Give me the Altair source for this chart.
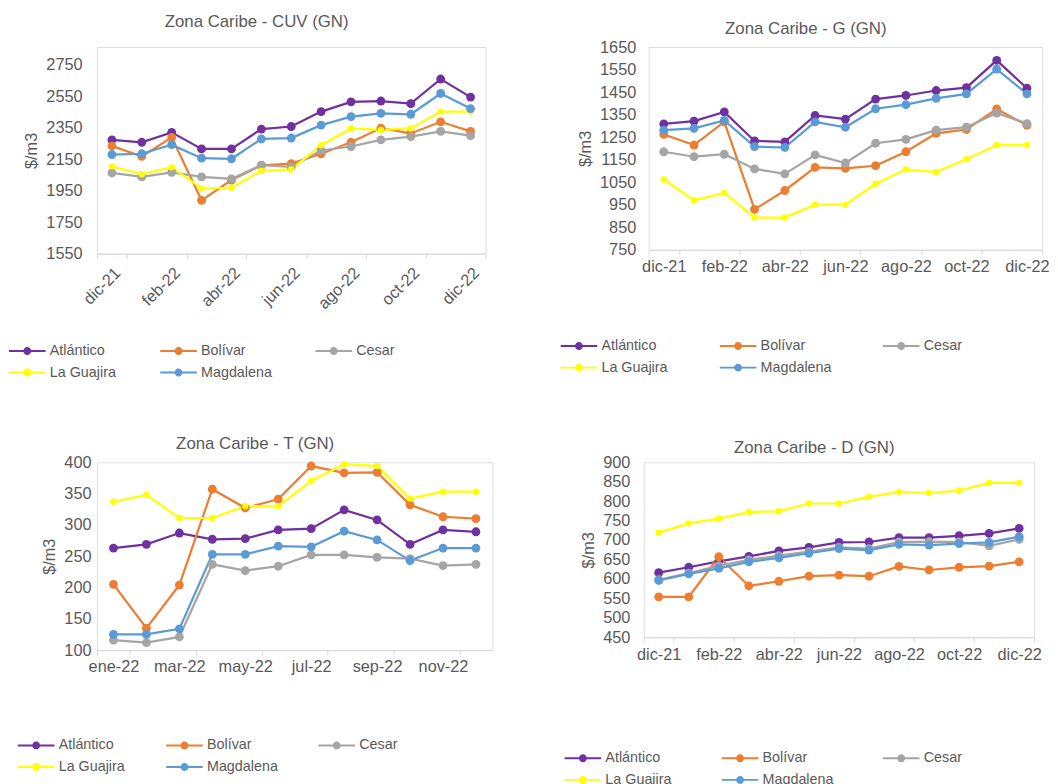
import altair as alt
import pandas as pd

# ---------------- data ----------------
months13 = ["dic-21", "ene-22", "feb-22", "mar-22", "abr-22", "may-22", "jun-22",
            "jul-22", "ago-22", "sep-22", "oct-22", "nov-22", "dic-22"]
months12 = months13[1:]
deptos = ["Atlántico", "Bolívar", "Cesar", "La Guajira", "Magdalena"]
colores = ["#7030A0", "#ED7D31", "#A5A5A5", "#FFFF00", "#5B9BD5"]

# Zona Caribe - CUV (GN)
cuv_atlantico = [2273, 2258, 2321, 2216, 2216, 2342, 2358, 2453, 2515, 2520, 2503, 2660, 2545]
cuv_bolivar = [2235, 2168, 2289, 1889, 2018, 2111, 2122, 2185, 2258, 2348, 2314, 2388, 2327]
cuv_cesar = [2063, 2038, 2067, 2038, 2025, 2113, 2101, 2206, 2231, 2273, 2294, 2327, 2300]
cuv_guajira = [2105, 2055, 2099, 1965, 1969, 2076, 2086, 2239, 2346, 2337, 2346, 2453, 2453]
cuv_magdalena = [2180, 2185, 2243, 2157, 2153, 2279, 2285, 2367, 2421, 2442, 2436, 2568, 2472]

# Zona Caribe - G (GN)
g_atlantico = [1309, 1321, 1362, 1233, 1229, 1346, 1330, 1419, 1435, 1457, 1470, 1591, 1467]
g_bolivar = [1262, 1215, 1318, 929, 1013, 1116, 1111, 1123, 1185, 1267, 1284, 1375, 1303]
g_cesar = [1185, 1163, 1174, 1109, 1087, 1171, 1135, 1223, 1240, 1281, 1294, 1357, 1310]
g_guajira = [1062, 970, 1002, 893, 893, 950, 950, 1043, 1107, 1095, 1152, 1215, 1215]
g_magdalena = [1281, 1289, 1324, 1208, 1204, 1318, 1294, 1376, 1394, 1422, 1442, 1552, 1442]

# Zona Caribe - T (GN)
t_atlantico = [263, 269, 287, 277, 278, 292, 294, 324, 308, 269, 292, 289]
t_bolivar = [205, 135, 204, 357, 327, 341, 394, 383, 384, 332, 313, 310]
t_cesar = [116, 112, 121, 237, 227, 234, 252, 252, 248, 246, 235, 237]
t_guajira = [337, 348, 311, 311, 330, 330, 370, 397, 394, 342, 353, 353]
t_magdalena = [125, 125, 134, 253, 253, 266, 265, 290, 276, 243, 263, 263]

# Zona Caribe - D (GN)
d_atlantico = [616, 630, 645, 658, 672, 681, 694, 695, 706, 706, 711, 717, 730]
d_bolivar = [554, 554, 657, 582, 594, 607, 610, 607, 632, 623, 630, 633, 644]
d_cesar = [598, 615, 634, 649, 660, 670, 681, 678, 695, 696, 695, 685, 702]
d_guajira = [719, 743, 755, 772, 774, 794, 794, 811, 824, 821, 827, 847, 847]
d_magdalena = [596, 613, 627, 644, 654, 666, 678, 674, 689, 687, 691, 694, 709]

TXT = "#595959"
AXC = "#D9D9D9"
FONT = "Liberation Sans"
LEG_PATH = ("M-3.7,-0.2L3.7,-0.2L3.7,0.2L-3.7,0.2Z "
            "M0.8,0A0.8 0.8 0 1 1 -0.8,0A0.8 0.8 0 1 1 0.8,0Z")


def tabla(months, series):
    rows = []
    for dep, vals in zip(deptos, series):
        for m, v in zip(months, vals):
            rows.append({"mes": m, "depto": dep, "valor": v})
    return pd.DataFrame(rows)


def panel(months, series, titulo, ydom, ytop, ystep, w, h, angle, lpad, tdx, toff,
          legx, legy, colpad):
    df = tabla(months, series)
    yvals = list(range(ydom[0], ydom[1] + 1, ystep))
    xaxis = dict(title=None, values=months[::2], tickBand="extent",
                 domainColor=AXC, tickColor=AXC, tickSize=5, domainWidth=1,
                 labelColor=TXT, labelFontSize=16.5, labelFont=FONT,
                 labelPadding=4, grid=False)
    if angle:
        xaxis.update(labelAngle=315, labelAlign="right", labelBaseline="top",
                     labelPadding=6)
    else:
        xaxis.update(labelAngle=0)
    x = alt.X("mes:N", sort=months,
              scale=alt.Scale(type="band", paddingInner=0, paddingOuter=0),
              bandPosition=0.5, axis=alt.Axis(**xaxis))
    y = alt.Y("valor:Q", scale=alt.Scale(domain=[ydom[0], ytop], nice=False, zero=False),
              axis=alt.Axis(title="$/m3", values=yvals, format="d", grid=False,
                            domain=False, ticks=False, labelColor=TXT,
                            labelFontSize=16.5, labelFont=FONT, labelPadding=lpad,
                            titleColor=TXT, titleFontSize=16.5, titleFont=FONT,
                            titleFontWeight="normal", titlePadding=6))
    color = alt.Color("depto:N",
                      scale=alt.Scale(domain=deptos, range=colores),
                      legend=alt.Legend(title=None, orient="none", legendX=legx,
                                        legendY=legy, columns=3, direction="horizontal",
                                        columnPadding=colpad, rowPadding=7,
                                        symbolType=LEG_PATH, symbolSize=100,
                                        symbolOffset=11.25, symbolStrokeWidth=0,
                                        labelOffset=15.5, labelFontSize=14.5,
                                        labelColor=TXT, labelFont=FONT,
                                        labelLimit=200))
    base = alt.Chart(df).encode(x=x, y=y, color=color)
    lines = base.mark_line(strokeWidth=2.25)
    pts = base.mark_point(filled=True, opacity=1).encode(
        size=alt.condition(alt.datum.depto == "La Guajira", alt.value(42), alt.value(80)))
    return alt.layer(lines, pts).properties(
        width=w, height=h,
        title=alt.TitleParams(titulo, fontSize=17, font=FONT, color=TXT,
                              fontWeight="normal", dx=tdx, offset=toff))


cuv = panel(months13, [cuv_atlantico, cuv_bolivar, cuv_cesar, cuv_guajira, cuv_magdalena],
            "Zona Caribe - CUV (GN)", [1550, 2750], 2863, 200, 393, 209, True, 15, -35, 16,
            -89, 300, 44)
g = panel(months13, [g_atlantico, g_bolivar, g_cesar, g_guajira, g_magdalena],
          "Zona Caribe - G (GN)", [750, 1650], 1650, 100, 398, 205, False, 13, -40, 1,
          -89, 295, 52)
t = panel(months12, [t_atlantico, t_bolivar, t_cesar, t_guajira, t_magdalena],
          "Zona Caribe - T (GN)", [100, 400], 400, 50, 400, 190, False, 6, -40, 1,
          -80, 279, 41)
d = panel(months13, [d_atlantico, d_bolivar, d_cesar, d_guajira, d_magdalena],
          "Zona Caribe - D (GN)", [450, 900], 900, 50, 395, 177, False, 14, -25, -3,
          -80, 292, 50)

indep = dict(x="independent", y="independent", color="independent")
row1 = alt.hconcat(cuv, g, spacing=74).resolve_scale(**indep).resolve_legend(color="independent")
row2 = alt.hconcat(t, d, spacing=71).resolve_scale(**indep).resolve_legend(color="independent")
chart = alt.vconcat(row1, row2, spacing=55).resolve_scale(**indep).resolve_legend(
    color="independent").properties(padding=0).configure_view(stroke=None).configure(
    font=FONT)

chart.save("out.html", embed_options={"renderer": "svg", "actions": False})
